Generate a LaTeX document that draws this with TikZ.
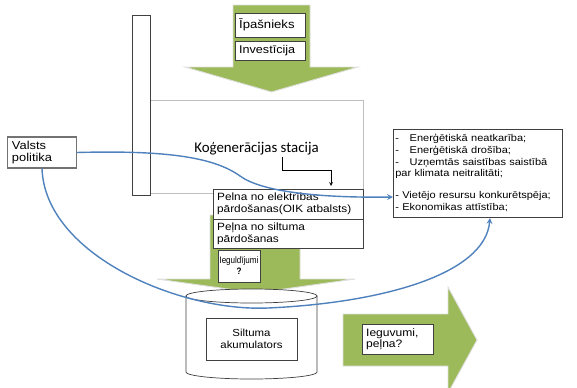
\documentclass[tikz,border=0pt]{standalone}
\usepackage{fontspec}
\setmainfont[FakeStretch=1.12]{Liberation Sans}
\newfontfamily\calibrifont{Carlito}
\newfontfamily\narrowfont[FakeStretch=0.86]{Liberation Sans}
\usetikzlibrary{
	arrows,
	shapes,
}
\definecolor{arrowgreen}{rgb}{0.61, 0.73, 0.35}
\definecolor{flowblue}{rgb}{0.31, 0.51, 0.74}
\definecolor{stationgray}{rgb}{0.75, 0.75, 0.75}
\definecolor{boxline}{rgb}{0.25, 0.25, 0.25}

\tikzset{
	textbox/.style={draw=boxline, fill=white, inner xsep=3.5pt, inner ysep=1pt, align=left, font=\fontsize{8.5}{10}\selectfont},
	greenarrow/.style={fill=arrowgreen, draw=black!12, line width=0.8pt},
	flow/.style={draw=flowblue, line width=1.2pt, -stealth},
}

\begin{document}
\begin{tikzpicture}[x=0.03cm, y=-0.03cm]
\useasboundingbox (0,0) rectangle (577,388);
\clip (0,0) rectangle (577,388);
% station frame
\draw[stationgray, line width=0.6pt] (150,100) rectangle (363,193);
% chimney
\draw[boxline, line width=0.6pt] (132,15) rectangle (150,195);
% input arrow
\filldraw[greenarrow] (233,5) -- (310,5) -- (310,67) -- (358,67) -- (271.5,92) -- (185,67) -- (233,67) -- cycle;
\node[textbox, text width=1.85cm, minimum height=0.72cm, font=\fontsize{10}{11}\selectfont] (owner) at (270,25) {Īpašnieks};
\node[textbox, text width=1.85cm, minimum height=0.57cm, font=\fontsize{9.6}{11}\selectfont] (invest) at (270,50.5) {Investīcija};
% arrow to the accumulator
\filldraw[greenarrow] (210,215) -- (300,215) -- (300,279) -- (355,279) -- (256,293) -- (157,279) -- (210,279) -- cycle;
% profit boxes
\node[textbox, text width=4.25cm, minimum height=0.9cm, font=\fontsize{9}{10.5}\selectfont] (profitel) at (288,204) {Pelna no elektrības\\ pārdošanas(OIK atbalsts)};
\node[textbox, text width=4.25cm, minimum height=0.87cm, font=\fontsize{9}{10.5}\selectfont] (profitheat) at (288,233.5) {Peļna no siltuma\\ pārdošanas};
\node[textbox, align=center, minimum width=1.26cm, minimum height=0.96cm, inner sep=0pt, font=\narrowfont\fontsize{8}{9.5}\selectfont] (invq) at (239,266) {Ieguldījumi\\ \textbf{?}};
% accumulator tank
\filldraw[fill=white, draw=boxline, line width=0.6pt] (186,296) -- (186,372) arc[start angle=180, end angle=360, x radius=1.965cm, y radius=0.21cm] -- (317,296) -- cycle;
\filldraw[fill=white, draw=boxline, line width=0.6pt] (251.5,296) ellipse[x radius=1.965cm, y radius=0.21cm];
\node[textbox, align=center, minimum width=2.73cm, minimum height=1.26cm, font=\fontsize{8.7}{10.5}\selectfont] (tank) at (251.5,339) {Siltuma\\ akumulators};
% output arrow
\filldraw[greenarrow] (343,314) -- (448,314) -- (448,287) -- (477,340) -- (448,393) -- (448,366) -- (343,366) -- cycle;
\node[textbox, text width=1.88cm, minimum height=0.9cm, font=\fontsize{9.2}{9.8}\selectfont] (gain) at (397.5,339) {Ieguvumi,\\ peļna?};
% policy and goals
\node[textbox, text width=1.8cm, minimum height=0.93cm, draw=black!55, line width=0.9pt, font=\fontsize{9.8}{10.5}\selectfont] (policy) at (42,152.5) {Valsts\\ politika};
\node[textbox, inner xsep=2pt, text width=4.93cm, minimum height=2.64cm, font=\fontsize{8.4}{9.9}\selectfont] (goals) at (477.5,173) {-\hspace{3.2mm}Enerģētiskā neatkarība;\\ -\hspace{3.2mm}Enerģētiskā drošība;\\ -\hspace{3.2mm}Uzņemtās saistības saistībā\\ par klimata neitralitāti;\\[9pt] - Vietējo resursu konkurētspēja;\\ - Ekonomikas attīstība;};
% station label
\node[font=\calibrifont\fontsize{12.7}{14}\selectfont, inner sep=0pt] (station) at (256.5,149) {Koģenerācijas stacija};
\coordinate (stationtail) at (282,157);
\coordinate (stationtip) at (331,186);
\draw[-stealth, black, line width=0.5pt] (stationtail) -- ++(0,13) -| (stationtip);
% flows
\coordinate (goalsleft) at (393,197);
\coordinate (goalsbottom) at (490,218);
\draw[flow] (policy.east) .. controls (170,150) and (215,158) .. (240,176) .. controls (262,192) and (320,198) .. (goalsleft);
\draw[flow] (policy.south) .. controls (45,255) and (180,312) .. (268,308) .. controls (380,303) and (485,275) .. (goalsbottom);
\end{tikzpicture}
\end{document}
